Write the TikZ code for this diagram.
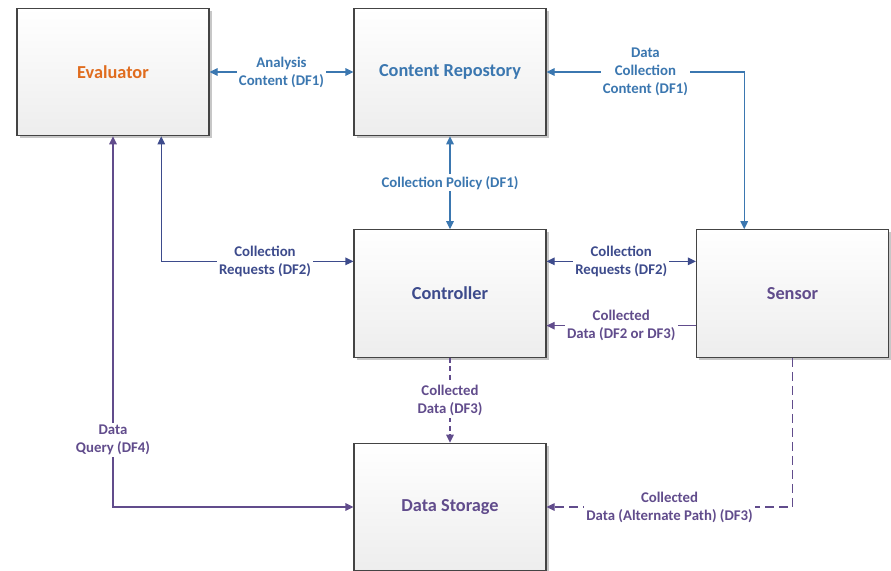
\documentclass[tikz,border=0pt]{standalone}
\usepackage{fontspec}
\setmainfont{Carlito}
\usetikzlibrary{arrows.meta,shadows,calc}

\definecolor{evalorange}{HTML}{E06C1E}
\definecolor{dfone}{HTML}{3B77B0}
\definecolor{dftwo}{HTML}{3D4B8C}
\definecolor{dfthree}{HTML}{614C8C}
\definecolor{boxedge}{HTML}{444444}

\tikzset{
  block/.style={draw=boxedge, line width=1.1pt, top color=white, bottom color=black!7,
    minimum width=192pt, minimum height=127.5pt, inner sep=0pt,
    font=\fontsize{18.3}{22}\selectfont\bfseries,
    drop shadow={shadow xshift=2.5pt, shadow yshift=-2.5pt, fill=black!22, opacity=1}},
  flow/.style={line width=1.1pt, draw=#1, text=#1,
    arrows={-Triangle[length=8pt,width=7.5pt]}},
  twoway/.style={flow=#1, arrows={Triangle[length=8pt,width=7.5pt]-Triangle[length=8pt,width=7.5pt]}},
  lbl/.style={fill=white, align=center, inner sep=2pt,
    font=\fontsize{14.8}{18}\selectfont\bfseries},
  shortdash/.style={dash pattern=on 5pt off 3.5pt},
  longdash/.style={dash pattern=on 9pt off 5pt},
}

\begin{document}
\begin{tikzpicture}[x=1pt,y=-1pt]
  \useasboundingbox (0,0) rectangle (891,570);
  \clip (0,0) rectangle (891,570);

  % components
  \node[block, text=evalorange] (eval)   at (113,72)    {Evaluator};
  \node[block, text=dfone]      (repo)   at (450,72)    {Content Repostory};
  \node[block, text=dftwo]      (ctrl)   at (450,293.5) {Controller};
  \node[block, text=dfthree]    (sensor) at (792.5,293.5) {Sensor};
  \node[block, text=dfthree]    (store)  at (450,507)   {Data Storage};

  % DF1 flows
  \draw[twoway=dfone] (eval.east) -- node[lbl] {Analysis\\Content (DF1)} (repo.west);
  \draw[twoway=dfone] (repo.east)
    -| node[lbl, pos=0.25] {Data\\Collection\\Content (DF1)}
    ($(sensor.north west)!0.25!(sensor.north east)$);
  \draw[twoway=dfone] (repo.south) -- node[lbl] {Collection Policy (DF1)} (ctrl.north);

  % DF2 flows
  \draw[twoway=dftwo] ($(eval.south west)!0.75!(eval.south east)$)
    |- node[lbl, pos=0.77] {Collection\\Requests (DF2)}
    ($(ctrl.north west)!0.25!(ctrl.south west)$);
  \draw[twoway=dftwo] ($(ctrl.north east)!0.25!(ctrl.south east)$)
    -- node[lbl] {Collection\\Requests (DF2)}
    ($(sensor.north west)!0.25!(sensor.south west)$);

  % collected data
  \draw[flow=dfthree] ($(sensor.north west)!0.75!(sensor.south west)$)
    -- node[lbl] {Collected\\Data (DF2 or DF3)}
    ($(ctrl.north east)!0.75!(ctrl.south east)$);
  \draw[flow=dfthree, shortdash] (ctrl.south)
    -- node[lbl] {Collected\\Data (DF3)} (store.north);
  \draw[flow=dfthree, longdash] (sensor.south)
    |- node[lbl, pos=0.75] {Collected\\Data (Alternate Path) (DF3)} (store.east);

  % DF4 query
  \draw[twoway=dfthree] (eval.south)
    |- node[lbl, pos=0.41] {Data\\Query (DF4)} (store.west);
\end{tikzpicture}
\end{document}
